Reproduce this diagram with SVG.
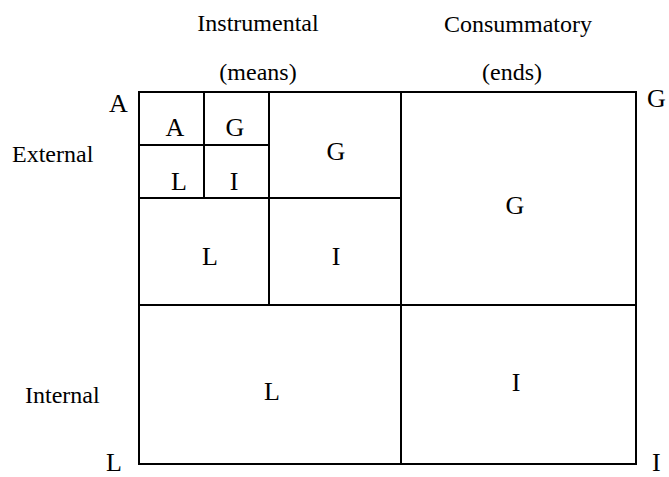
<svg xmlns="http://www.w3.org/2000/svg" width="669" height="477" viewBox="0 0 669 477">
<style>
text{font-family:"Liberation Serif","Times New Roman",serif;font-size:26px;fill:#000}
.lbl{font-size:24px}
.c{text-anchor:middle}
.ln{stroke:#000;stroke-width:2;fill:none}
</style>
<rect width="669" height="477" fill="#fff"/>
<g id="headers">
<text class="lbl c" x="258" y="31">Instrumental</text>
<text class="lbl c" x="258" y="80">(means)</text>
<text class="lbl c" x="518" y="32">Consummatory</text>
<text class="lbl c" x="512" y="80">(ends)</text>
<text class="lbl" x="12" y="162">External</text>
<text class="lbl" x="25" y="403">Internal</text>
</g>
<g id="corners">
<text x="109" y="112">A</text>
<text x="647" y="107">G</text>
<text x="106" y="471">L</text>
<text x="652" y="471">I</text>
</g>
<g id="connectors">
<rect class="ln" x="139" y="92" width="497" height="372"/>
<line class="ln" x1="401" y1="92" x2="401" y2="464"/>
<line class="ln" x1="139" y1="305" x2="636" y2="305"/>
<line class="ln" x1="269" y1="92" x2="269" y2="305"/>
<line class="ln" x1="139" y1="198" x2="401" y2="198"/>
<line class="ln" x1="204" y1="92" x2="204" y2="198"/>
<line class="ln" x1="139" y1="145" x2="269" y2="145"/>
</g>
<g id="cell-aa"><text class="c" x="175" y="136">A</text></g>
<g id="cell-ag"><text class="c" x="235" y="136">G</text></g>
<g id="cell-al"><text class="c" x="179" y="190">L</text></g>
<g id="cell-ai"><text class="c" x="234" y="190">I</text></g>
<g id="cell-g-means"><text class="c" x="336" y="160">G</text></g>
<g id="cell-l-means"><text class="c" x="210" y="265">L</text></g>
<g id="cell-i-means"><text class="c" x="336" y="265">I</text></g>
<g id="cell-g-ends"><text class="c" x="515" y="214">G</text></g>
<g id="cell-l-internal"><text class="c" x="272" y="400">L</text></g>
<g id="cell-i-internal"><text class="c" x="516" y="391">I</text></g>
</svg>
